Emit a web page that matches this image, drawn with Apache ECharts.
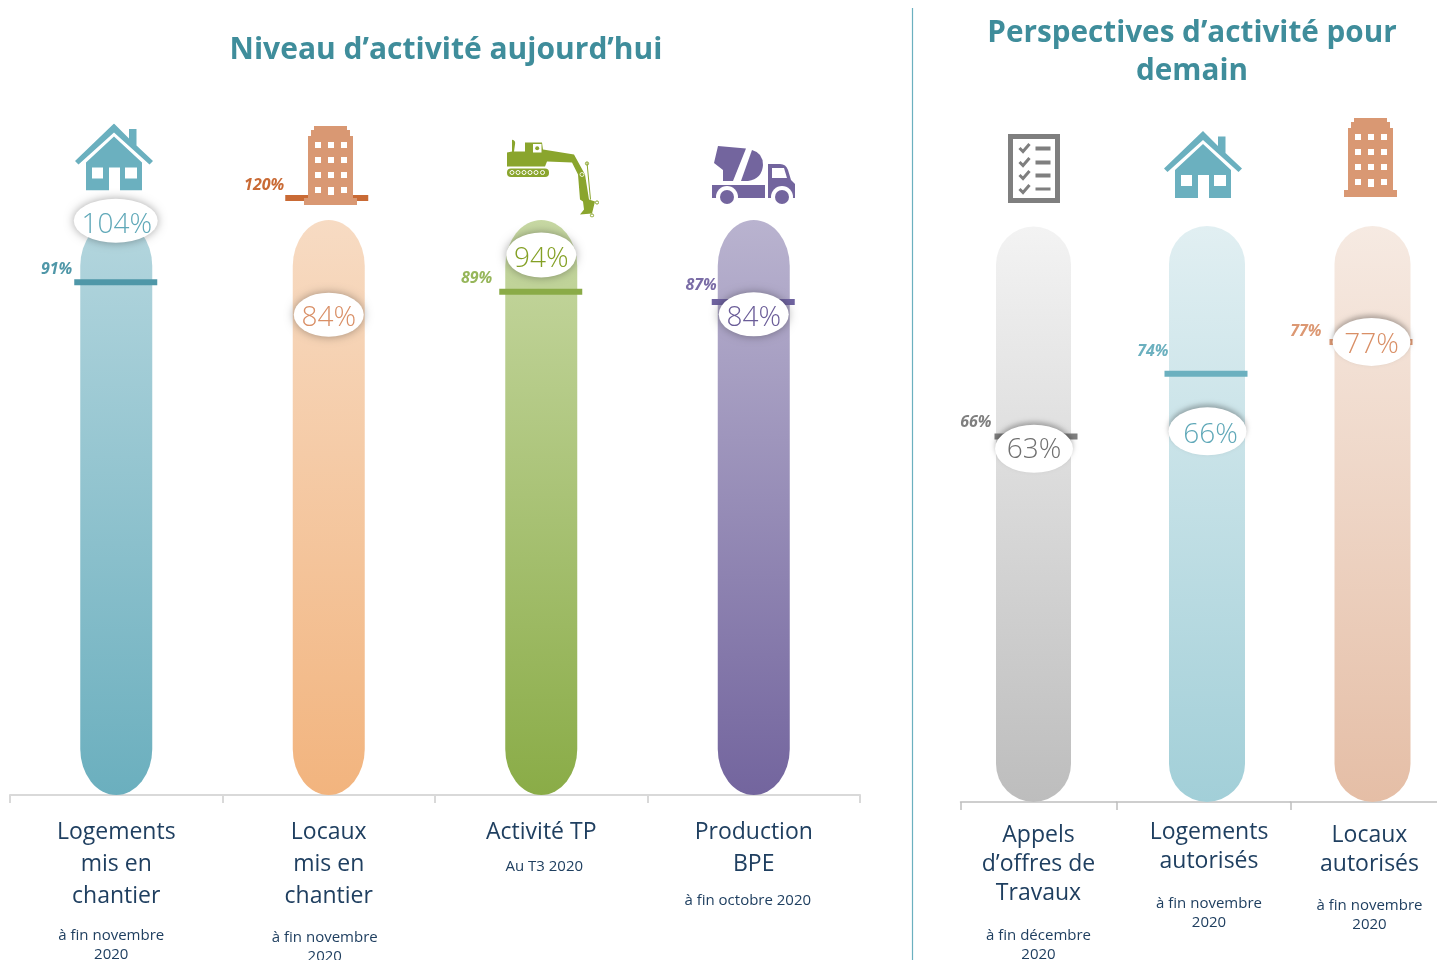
<!DOCTYPE html>
<html><head><meta charset="utf-8">
<style>html,body{margin:0;padding:0;background:#fff;overflow:hidden}#c{width:1437px;height:960px}</style>
<script src="https://cdn.jsdelivr.net/npm/echarts@6/dist/echarts.min.js"></script>
</head><body><div id="c"></div>
<script>
// ---- data ----
const categoryLines = [
  ['Logements','mis en','chantier'],
  ['Locaux','mis en','chantier'],
  ['Activité TP'],
  ['Production','BPE'],
  ['Appels','d’offres de','Travaux'],
  ['Logements','autorisés'],
  ['Locaux','autorisés']
];
const periodLines = [
  ['à fin novembre','2020'],
  ['à fin novembre','2020'],
  ['Au T3 2020'],
  ['à fin octobre 2020'],
  ['à fin décembre','2020'],
  ['à fin novembre','2020'],
  ['à fin novembre','2020']
];
const currentValues = [104, 84, 94, 84, 63, 66, 77];
const referenceValues = [91, 120, 89, 87, 66, 74, 77];
// each column is its own small chart with its own value scale
const scaleMin = [-17.16, -64.15, 20.33, -33.24, -23.02, 14.6, -37.8];
const scaleMax = [110.48, 122.46, 102.87, 114.32, 126.0, 99.47, 114.9];
const capsuleTop = [104.15, 113.2, 98.77, 107.0, 117.1, 94.47, 105.9];

// ---- layout and style ----
const gridLeft = [10, 222.5, 435, 647.5, 960.5, 1116.5, 1290.5];
const gridWidth = [212.5, 212.5, 212.5, 212.5, 156, 174, 147];
const gridTop = 190;
const gridBottomY = [795, 795, 795, 795, 802, 802, 802];
const capsuleDx = [0, 0, 0, 0, -5, 3.5, 8.5];
const capsuleW = [72, 72, 72, 72, 75, 76, 76];
const capsuleRy = [46, 46, 46, 46, 38, 38, 38];
const capsuleColors = [
  ['#B4D6DE','#6BAFBE'],['#F7DBC3','#F2B47E'],['#C7D8A3','#8AAC47'],['#B9B3CF','#73659E'],
  ['#F3F3F3','#BDBDBD'],['#E1EFF2','#A2CFD8'],['#F6EAE2','#E5BEA6']
];
const bubbleColors = ['#5FA8B8','#D98F66','#84A025','#6A5C98','#707070','#5FA8B8','#D98F66'];
const markerColors = ['#4F97A8','#C96A35','#8AAB47','#6F63A0','#7F7F7F','#6BB0BF','#DC9873'];
const refLabelColors = ['#4F97A8','#C96A35','#96B65A','#7A6CA6','#7F7F7F','#6BB0BF','#DC9873'];
const bubbleSize = [[84,44],[70,44],[70,45],[70,44],[78,48],[78,48],[78,48]];
const bubbleDx = [-0.5, 0, 0, 0, -4.5, 4, 7.5];
const bubbleTextOff = [[1,4],[0,3],[0,4],[0,4],[0,1.5],[3,4],[0,3]];
const markerDx = [-0.5, -2, -0.5, -0.5, -2.5, 2.5, 7];
const refLabelOff = [[-2,-13],[-1,-13],[-7,-13],[5,-17],[-3,-14],[4,-22],[-8,-10]];
const labelMargin = [21.5, 21.5, 21.5, 21.5, 18.5, 15.5, 18.5];
const nameLh = [32, 32, 32, 32, 29, 29, 29];
const spacer = [13.5, 15.5, 8.5, 11, 19, 18.5, 17.5];
const labelPad = [0, 0, 0, 0, 0, 11, 11];
const subDx = [-5, -4, 3, -6, 0, 0, 0];

// ---- icons ----
const house = c => `<svg xmlns="http://www.w3.org/2000/svg" viewBox="0 0 78 67" width="78" height="67"><path fill="${c}" d="M39 0L54 15V5.5H61.5V22L78 37.5L74.5 41L39 9L3.5 41L0 37.5Z"/><path fill="${c}" fill-rule="evenodd" d="M39 13L67 39V67H45V44H34V67H11V39ZM17 44V55H28V44ZM50 44V55H62V44Z"/></svg>`;
const building = c => {
  let w = '';
  [11,24,37].forEach(x => [16,31,46,61].forEach(y => {
    const h = (x === 24 && y === 61) ? 8 : 6;
    w += `M${x} ${y}h6v${h}h-6z`;
  }));
  return `<svg xmlns="http://www.w3.org/2000/svg" viewBox="0 0 53 79" width="53" height="79"><path fill="${c}" fill-rule="evenodd" d="M10 0H43V4H46V10H49V72H53V79H0V72H4V10H7V4H10Z${w}"/></svg>`;
};
const excavator = c => {
  let wheels = '';
  [5,11,17,23,29,35.5].forEach(x => wheels += `<circle cx="${x}" cy="33" r="2" fill="none" stroke="#fff" stroke-width="1"/>`);
  return `<svg xmlns="http://www.w3.org/2000/svg" viewBox="0 0 92 78" width="92" height="78"><path fill="${c}" d="M5 0Q9 1 8 5L7 12H18V3H35L36 10L67 15L78 35L82 60L88 62L85 74L73 75L77 70L76 62L73 60L71 35L65 23L40 22L38 27H0V13L5 12Z"/><rect x="26" y="4.5" width="8.5" height="8.5" fill="#fff"/><circle cx="30.2" cy="8.8" r="2" fill="${c}"/><rect x="0" y="29" width="42" height="8.5" rx="4" fill="${c}"/>${wheels}<path d="M80 23L83.5 60" stroke="${c}" stroke-width="1" fill="none"/><circle cx="80" cy="24" r="1.6" fill="none" stroke="${c}"/><circle cx="90" cy="63" r="1.6" fill="none" stroke="${c}"/><circle cx="85" cy="76" r="1.6" fill="none" stroke="${c}"/><circle cx="75" cy="35" r="2" fill="none" stroke="#fff" stroke-width="0.8"/></svg>`;
};
const mixer = c => `<svg xmlns="http://www.w3.org/2000/svg" viewBox="0 0 83 59" width="83" height="59"><path fill="${c}" d="M6 0L34 2.5L21 35H11V24L2 17Z"/><path fill="${c}" d="M40 4Q51 7 51 19Q50 33 36 35H29Z"/><path fill="${c}" d="M0 39H53V52H0Z"/><path fill="${c}" d="M56 18H68Q74 18 76 24L79 34L83 38V52H56Z"/><rect x="60" y="22" width="12" height="10" fill="#fff"/><path fill="#fff" d="M72 22L75 32H72Z"/><circle cx="15" cy="51" r="11" fill="#fff"/><circle cx="70" cy="51" r="11" fill="#fff"/><rect x="0" y="52" width="83" height="7" fill="#fff"/><circle cx="15" cy="51" r="7" fill="${c}"/><circle cx="70" cy="51" r="7" fill="${c}"/></svg>`;
const checklist = c => {
  let r = '';
  [14,28,41,55].forEach(y => {
    r += `<path d="M11.5 ${y}L15 ${y+3.5}L21.5 ${y-4}" fill="none" stroke="${c}" stroke-width="3"/><rect x="27.5" y="${y-1.5}" width="15" height="${y===55?3:4}" fill="${c}"/>`;
  });
  return `<svg xmlns="http://www.w3.org/2000/svg" viewBox="0 0 52 69" width="52" height="69"><rect x="2.5" y="2.5" width="47" height="64" fill="#fff" stroke="${c}" stroke-width="5"/>${r}</svg>`;
};
const icons = [
  [house('#6BB0BF'), 75, 123.5, 78, 67],
  [building('#D99873'), 304, 126, 53, 79],
  [excavator('#8AA52D'), 507, 139.5, 92, 78],
  [mixer('#73659E'), 712, 146, 83, 59],
  [checklist('#7F7F7F'), 1008, 134, 52, 69],
  [house('#6BB0BF'), 1164, 131, 78, 67],
  [building('#D99873'), 1344, 118, 53, 79]
];

const FONT = '"Open Sans", sans-serif';
const idx = categoryLines.map((_, i) => i);

function axisText(i) {
  const n = categoryLines[i].map(s => `{n${i}|${s}}`);
  const g = [`{g${i}|\u00a0}`];
  const p = periodLines[i].map(s => `{s${i}|${s}}`);
  return n.concat(g, p).join('\n');
}
function richFor(i) {
  const r = {};
  r['s'+i] = { fontFamily: FONT, fontSize: 15, lineHeight: 19, color: '#1F3F60', align: 'center',
    padding: subDx[i] < 0 ? [0, -2*subDx[i], 0, 0] : [0, 0, 0, 2*subDx[i]] };
  r['n'+i] = { fontFamily: FONT, fontSize: 23, lineHeight: nameLh[i], color: '#1F3F60', align: 'center' };
  r['g'+i] = { fontSize: 4, lineHeight: spacer[i] };
  return r;
}

const series = [];
idx.forEach(i => {
  const cat = categoryLines[i].join(' ');
  series.push({
    type: 'custom', xAxisIndex: i, yAxisIndex: i, z: 2, silent: true,
    data: [[cat, capsuleTop[i]]],
    renderItem: (p, api) => {
      const t = api.coord([0, api.value(1)]);
      const b = api.coord([0, scaleMin[i]]);
      const w = capsuleW[i], ry = capsuleRy[i], rx = w / 2, h = b[1] - t[1];
      return {
        type: 'path',
        shape: {
          pathData: `M0 ${ry}A${rx} ${ry} 0 0 1 ${w} ${ry}L${w} ${h-ry}A${rx} ${ry} 0 0 1 0 ${h-ry}Z`,
          x: t[0] + capsuleDx[i] - rx, y: t[1], width: w, height: h, layout: 'cover'
        },
        style: { fill: new echarts.graphic.LinearGradient(0, 0, 0, 1, [
          { offset: 0, color: capsuleColors[i][0] }, { offset: 1, color: capsuleColors[i][1] }
        ]) }
      };
    }
  });
  series.push({
    type: 'scatter', xAxisIndex: i, yAxisIndex: i, z: 3, silent: true,
    symbol: 'rect', symbolSize: [83, 6], symbolOffset: [markerDx[i], 0],
    itemStyle: { color: markerColors[i], opacity: 1 },
    data: [[cat, referenceValues[i]]],
    label: {
      show: true, position: 'left', distance: 0, offset: refLabelOff[i],
      formatter: p => p.value[1] + '%',
      fontFamily: FONT, fontStyle: 'italic', fontWeight: 'bold', fontSize: 16, color: refLabelColors[i]
    }
  });
  series.push({
    type: 'scatter', xAxisIndex: i, yAxisIndex: i, z: 4, silent: true,
    symbol: 'circle', symbolSize: bubbleSize[i], symbolOffset: [bubbleDx[i], 0],
    itemStyle: { color: '#fff', opacity: 1, shadowBlur: i < 4 ? 10 : 5, shadowColor: i < 4 ? 'rgba(0,0,0,0.35)' : 'rgba(0,0,0,0.28)', shadowOffsetY: i < 4 ? 0 : -3 },
    data: [[cat, currentValues[i]]],
    label: {
      show: true, position: 'inside', offset: bubbleTextOff[i],
      formatter: p => p.value[1] + '%',
      fontFamily: FONT, fontWeight: 300, fontSize: 28, color: bubbleColors[i]
    }
  });
});

const option = {
  animation: false,
  backgroundColor: '#fff',
  title: [
    { text: 'Niveau d’activité aujourd’hui', left: 441, top: 30, textAlign: 'center',
      textStyle: { fontFamily: FONT, fontWeight: 'bold', fontSize: 30, color: '#3F8D9B' } },
    { text: 'Perspectives d’activité pour\ndemain', left: 1187, top: 10, textAlign: 'center',
      textStyle: { fontFamily: FONT, fontWeight: 'bold', fontSize: 29.7, lineHeight: 38, color: '#3F8D9B' } }
  ],
  grid: idx.map(i => ({ left: gridLeft[i], width: gridWidth[i], top: gridTop, height: gridBottomY[i] - gridTop, outerBoundsMode: 'none' })),
  xAxis: idx.map(i => ({
    type: 'category', gridIndex: i, data: [categoryLines[i].join(' ')],
    axisLine: { show: true, onZero: false, lineStyle: { color: i < 4 ? '#D9D9D9' : '#BFBFBF', width: i < 4 ? 2 : 1.5 } },
    axisTick: { show: true, length: 8, lineStyle: { color: i < 4 ? '#D9D9D9' : '#BFBFBF', width: i < 4 ? 2 : 1.5 } },
    axisLabel: { interval: 0, margin: labelMargin[i], formatter: () => axisText(i), rich: richFor(i), padding: [0,0,0,labelPad[i]], verticalAlign: 'top' }
  })),
  yAxis: idx.map(i => ({ type: 'value', gridIndex: i, min: scaleMin[i], max: scaleMax[i], show: false, splitLine: { show: false } })),
  series,
  graphic: [
    { type: 'line', z: 1, shape: { x1: 912.5, y1: 8, x2: 912.5, y2: 960 }, style: { stroke: '#6BB0BF', lineWidth: 1.2 } }
  ].concat(icons.map(ic => ({
    type: 'image', z: 20, silent: true,
    style: { image: 'data:image/svg+xml;charset=utf-8,' + encodeURIComponent(ic[0]), x: ic[1], y: ic[2], width: ic[3], height: ic[4] }
  })))
};
echarts.init(document.getElementById('c'), null, { renderer: 'canvas' }).setOption(option);
</script></body></html>
